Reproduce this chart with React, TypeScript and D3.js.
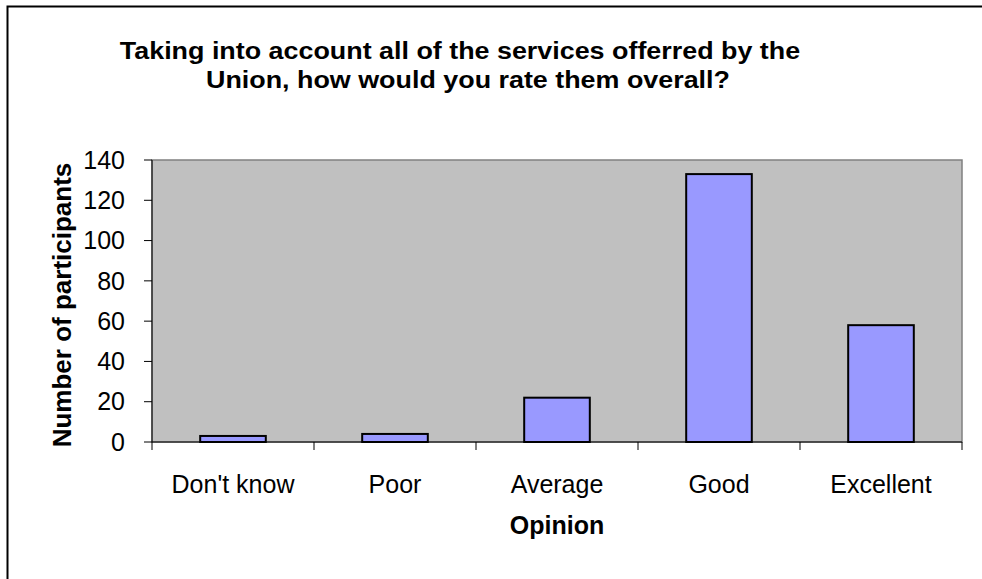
import React from "react";
import * as d3 from "d3";

const categories = ["Don't know", "Poor", "Average", "Good", "Excellent"];
const values = [3, 4, 22, 133, 58];
const yTicks = [0, 20, 40, 60, 80, 100, 120, 140];
const titleLines = [
  "Taking into account all of the services offerred by the",
  "Union, how would you rate them overall?",
];

export default function App() {
  const W = 982, H = 579;
  const left = 152, right = 962, top = 160, bottom = 442;
  const x = d3.scaleBand<string>().domain(categories).range([left, right]).paddingInner(0).paddingOuter(0);
  const y = d3.scaleLinear().domain([0, 140]).range([bottom, top]);
  const barW = x.bandwidth() * 0.405;
  const font = "'Liberation Sans', Arial, sans-serif";
  const titleX = [460, 468];
  return (
    <svg width={W} height={H} style={{ position: "absolute", left: 0, top: 0, background: "#fff" }} fontFamily={font}>
      <rect x={7.5} y={6.5} width={W + 10} height={H + 10} fill="#fff" stroke="#000" strokeWidth={2} />
      {titleLines.map((t, i) => (
        <text key={i} x={titleX[i]} y={59 + i * 29} textAnchor="middle" fontWeight="bold" fontSize={24}
          transform={`translate(${titleX[i]},0) scale(1.12,1) translate(${-titleX[i]},0)`}>{t}</text>
      ))}
      <rect x={left} y={top} width={right - left} height={bottom - top} fill="#c0c0c0" stroke="#808080" strokeWidth={1.5} />
      {categories.map((c, i) => {
        const cx = (x(c) as number) + x.bandwidth() / 2;
        return (
          <rect key={c} x={cx - barW / 2} y={y(values[i])} width={barW} height={bottom - y(values[i])}
            fill="#9999ff" stroke="#000" strokeWidth={2} />
        );
      })}
      <line x1={left} x2={left} y1={top} y2={bottom} stroke="#000" strokeWidth={1} />
      <line x1={left} x2={right} y1={bottom} y2={bottom} stroke="#000" strokeWidth={1} />
      {yTicks.map((t) => (
        <g key={t}>
          <line x1={left - 8} x2={left} y1={y(t)} y2={y(t)} stroke="#000" />
          <text x={125} y={y(t)} dy="0.35em" textAnchor="end" fontSize={25}>{t}</text>
        </g>
      ))}
      {[...categories.map((c) => x(c) as number), right].map((px, i) => (
        <line key={i} x1={px} x2={px} y1={bottom} y2={bottom + 8} stroke="#000" />
      ))}
      {categories.map((c) => (
        <text key={c} x={(x(c) as number) + x.bandwidth() / 2} y={493} textAnchor="middle" fontSize={25}>{c}</text>
      ))}
      <text x={(left + right) / 2} y={534} textAnchor="middle" fontWeight="bold" fontSize={25}>Opinion</text>
      <text transform={`translate(71, ${(top + bottom) / 2 + 4}) rotate(-90)`} textAnchor="middle" fontWeight="bold" fontSize={26}>
        Number of participants
      </text>
    </svg>
  );
}
